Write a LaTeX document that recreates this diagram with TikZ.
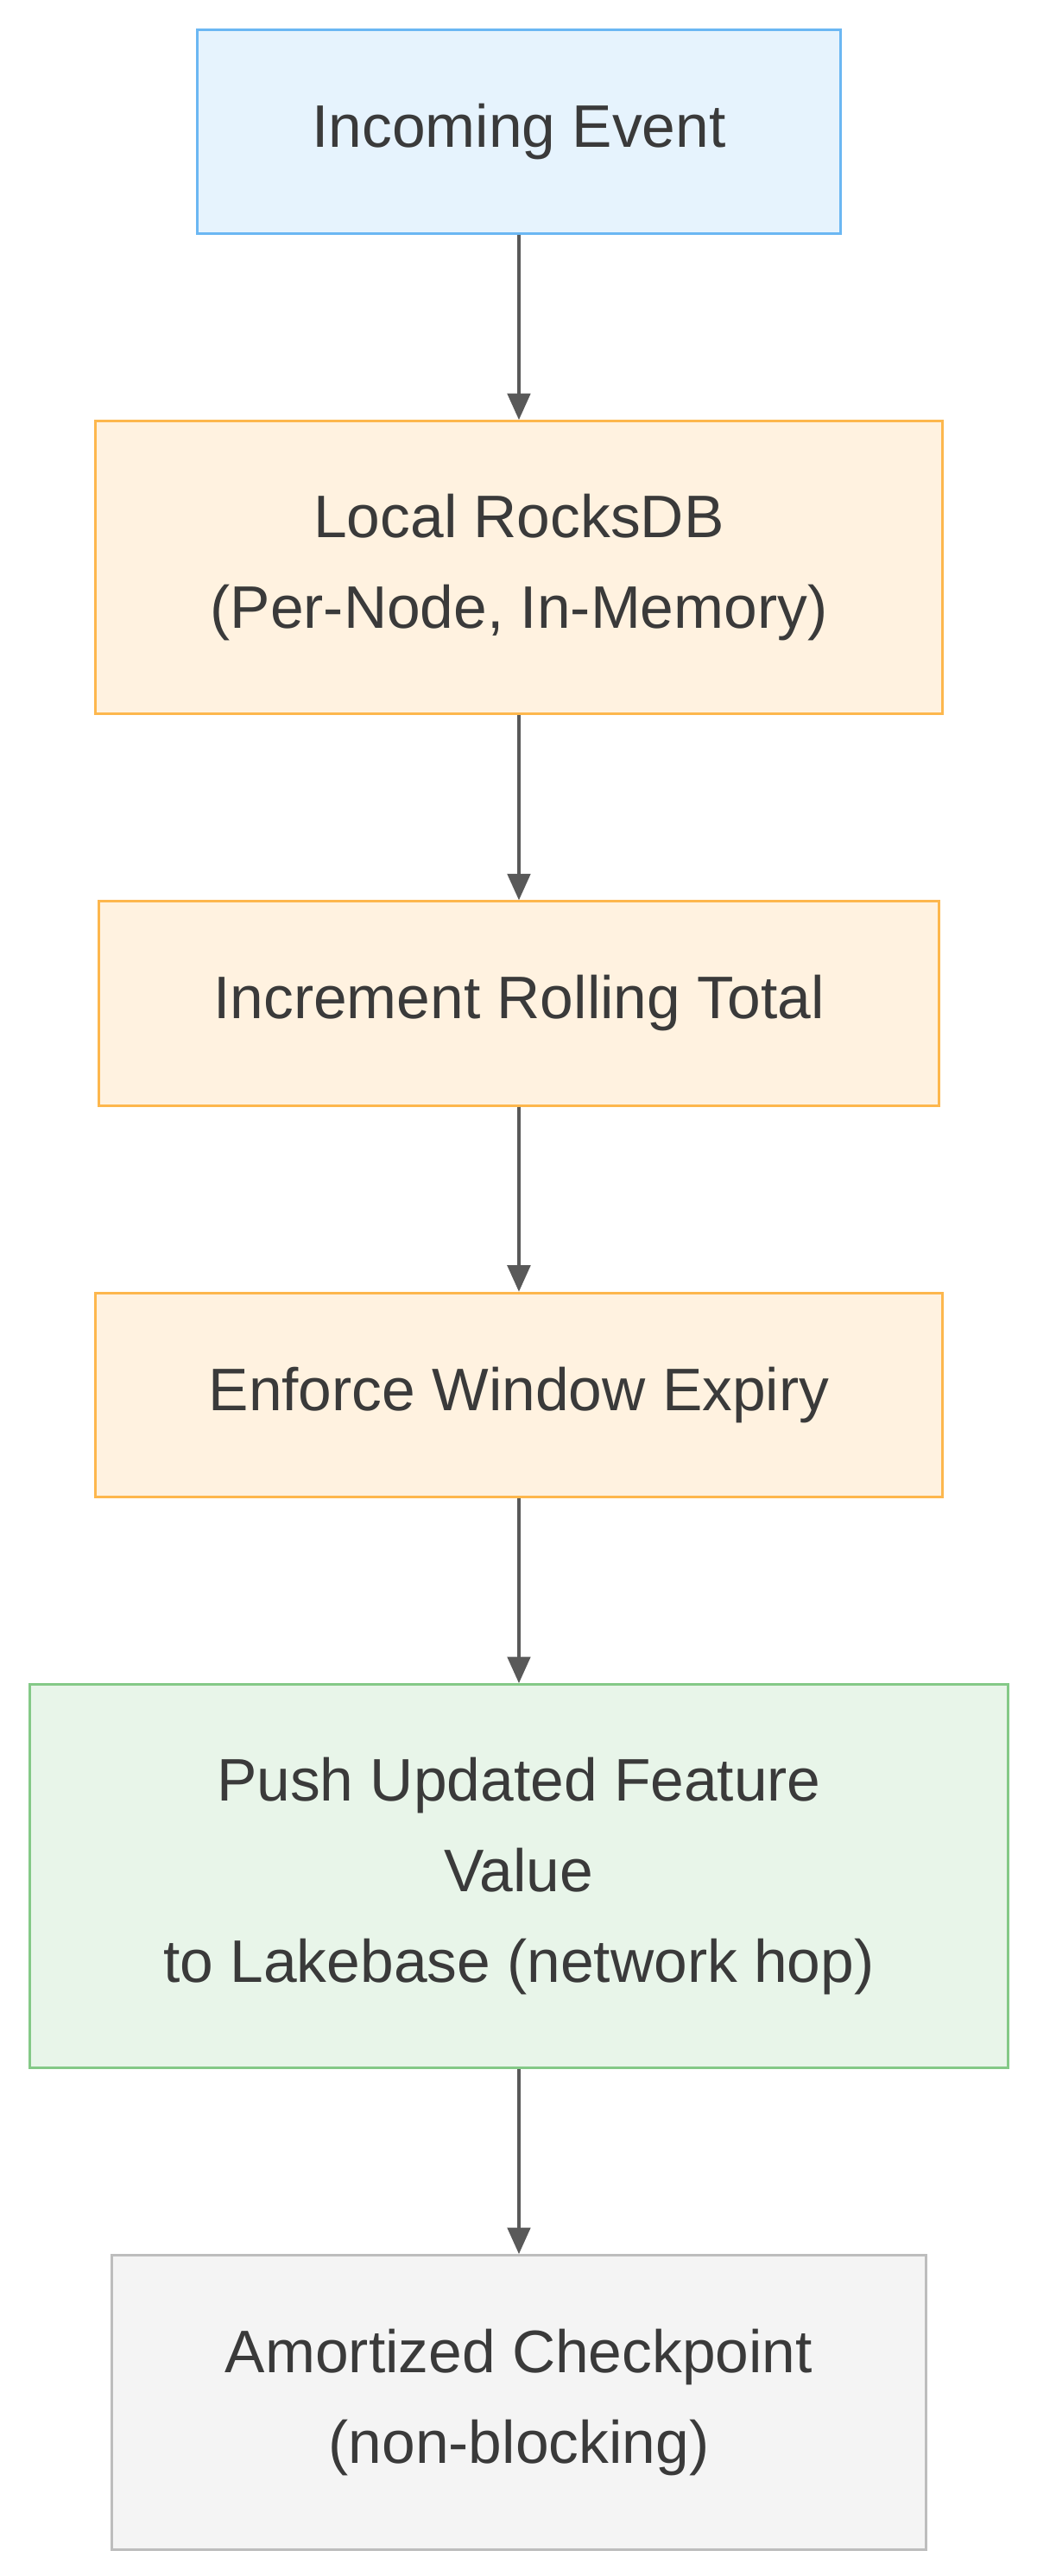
\documentclass[tikz,border=0pt]{standalone}
\usepackage{fontspec}
\setmainfont{Liberation Sans}
\usepackage{xcolor}
\usetikzlibrary{positioning,calc,arrows.meta}
\definecolor{txt}{HTML}{3A3A3A}
\definecolor{bluefill}{HTML}{E6F3FD}
\definecolor{blueline}{HTML}{6BB7F3}
\definecolor{orfill}{HTML}{FFF2E0}
\definecolor{orline}{HTML}{FDB74D}
\definecolor{grfill}{HTML}{E8F5E9}
\definecolor{grline}{HTML}{84C987}
\definecolor{gyfill}{HTML}{F4F4F4}
\definecolor{gyline}{HTML}{BDBDBD}
\tikzstyle{box}= [rectangle, draw, line width=1.6pt, align=center, text=txt, font=\fontsize{36.5}{55}\selectfont, inner sep=0pt]
\tikzstyle{arr}= [draw=black!65, line width=1.6pt, -{Triangle[length=16pt,width=14pt]}]
\begin{document}
\begin{tikzpicture}[x=1pt,y=-1pt]
				\useasboundingbox[fill=white] (0,0) rectangle (630,1566);
				\node[box, fill=bluefill, draw=blueline, minimum width=391pt, minimum height=124pt] (event) at (315.5, 80) {Incoming Event};
				\node[box, fill=orfill, draw=orline, minimum width=515pt, minimum height=178pt] (rocks) at (315.5, 345) {Local RocksDB\\(Per-Node, In-Memory)};
				\node[box, fill=orfill, draw=orline, minimum width=511pt, minimum height=124pt] (incr) at (315.5, 610) {Increment Rolling Total};
				\node[box, fill=orfill, draw=orline, minimum width=515pt, minimum height=124pt] (expiry) at (315.5, 848) {Enforce Window Expiry};
				\node[box, fill=grfill, draw=grline, minimum width=595pt, minimum height=233pt] (push) at (315.5, 1140.5) {Push Updated Feature\\Value\\to Lakebase (network hop)};
				\node[box, fill=gyfill, draw=gyline, minimum width=495pt, minimum height=179pt] (ckpt) at (315.5, 1460.5) {Amortized Checkpoint\\(non-blocking)};
				\draw[arr] (event) -- (rocks);
				\draw[arr] (rocks) -- (incr);
				\draw[arr] (incr) -- (expiry);
				\draw[arr] (expiry) -- (push);
				\draw[arr] (push) -- (ckpt);
			\end{tikzpicture}
\end{document}
